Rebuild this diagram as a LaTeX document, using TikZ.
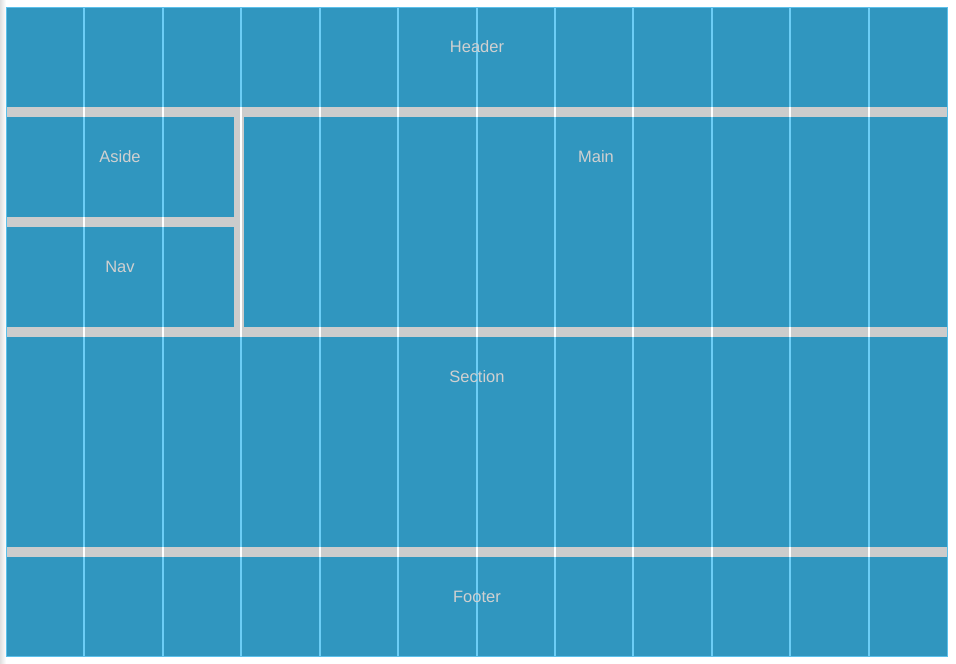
\documentclass[tikz,border=0pt]{standalone}
\usepackage{fontspec}
\setmainfont{Liberation Sans}
\definecolor{cellblue}{HTML}{3096BF}
\definecolor{gapgray}{HTML}{CCCCCC}
\definecolor{gridline}{HTML}{6CCDF5}
\definecolor{edgeblue}{HTML}{5BC0EB}
\definecolor{labelgray}{HTML}{D0D0D0}
\begin{document}
\begin{tikzpicture}[x=1pt,y=-1pt,
  cell/.style={fill=cellblue,draw=none},
  lbl/.style={text=labelgray,font=\fontsize{16.5}{19}\selectfont,anchor=center,inner sep=0pt},
  vline/.style={draw=gridline,line width=2pt},
  gapline/.style={draw=white,line width=2pt}]
\useasboundingbox (0,0) rectangle (956,664);
\fill[white] (0,0) rectangle (956,664);
\shade[left color=black!12,right color=white] (0,0) rectangle (6,664);
% gray container background
\fill[gapgray] (6,7) rectangle (947,656);
% cells
\path[cell] (6,7) rectangle (947,107);
\path[cell] (6,117) rectangle (234,217);
\path[cell] (6,227) rectangle (234,327);
\path[cell] (244,117) rectangle (947,327);
\path[cell] (6,337) rectangle (947,547);
\path[cell] (6,557) rectangle (947,656);
% grid overlay
\foreach \k in {1,...,11}{
  \pgfmathsetmacro{\xx}{6+78.42*\k}
  \draw[vline] (\xx,7) -- (\xx,656);
  \draw[gapline] (\xx,107) -- (\xx,117);
  \draw[gapline] (\xx,327) -- (\xx,337);
  \draw[gapline] (\xx,547) -- (\xx,557);
}
\draw[gapline] (6+78.42*1,217) -- (6+78.42*1,227);
\draw[gapline] (6+78.42*2,217) -- (6+78.42*2,227);
\draw[gapline] (6+78.42*3,107) -- (6+78.42*3,337);
% outer border
\draw[edgeblue,line width=1pt] (6,7) rectangle (947,656);
% labels
\node[lbl] (header) at (477,47) {Header};
\node[lbl] (aside) at (120,157) {Aside};
\node[lbl] (nav) at (120,267) {Nav};
\node[lbl] (main) at (596,157) {Main};
\node[lbl] (section) at (477,377) {Section};
\node[lbl] (footer) at (477,597) {Footer};
\end{tikzpicture}
\end{document}
